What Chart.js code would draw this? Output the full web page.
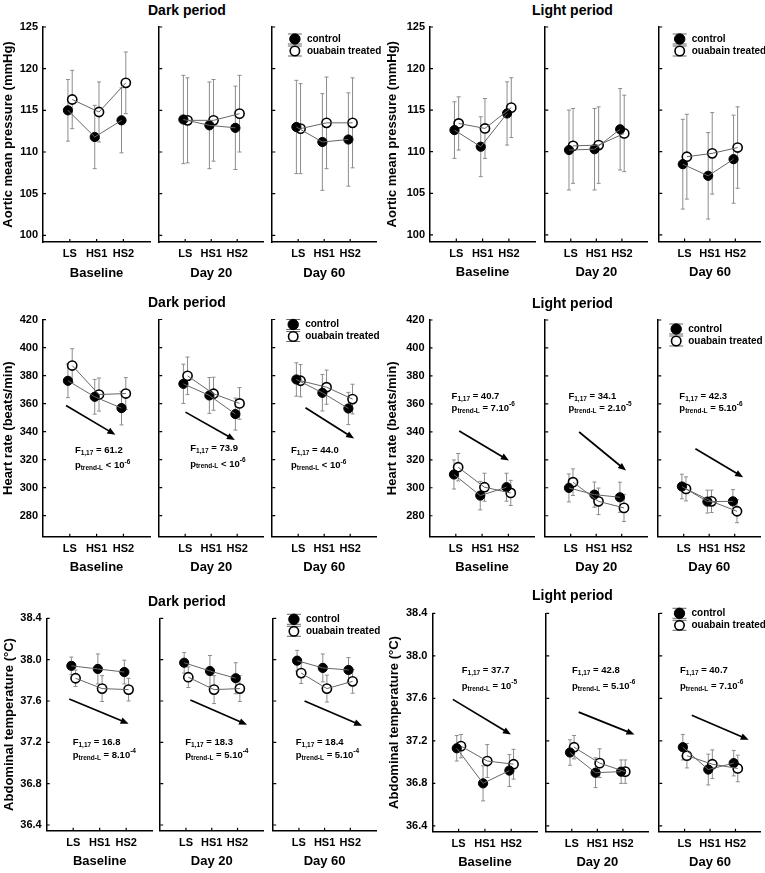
<!DOCTYPE html>
<html>
<head>
<meta charset="utf-8">
<script src="https://cdn.jsdelivr.net/npm/chart.js@4.4.1/dist/chart.umd.min.js"></script>
<style>
  body { margin: 0; background: #fff; width: 765px; height: 873px; position: relative; overflow: hidden;
         font-family: 'Liberation Sans', Arial, sans-serif; }
  canvas { position: absolute; }
  .ttl { position: absolute; font-weight: bold; font-size: 14px; line-height: 16px; white-space: nowrap; }
</style>
</head>
<body>
<script>
const categories = ['LS', 'HS1', 'HS2'];
const periods = ['Baseline', 'Day 20', 'Day 60'];
const seriesNames = ['control', 'ouabain treated'];

// Aortic mean pressure (mmHg), per period [LS, HS1, HS2]
const mapTicks = [100, 105, 110, 115, 120, 125];
const mapDarkControl    = [[115.0, 111.8, 113.8], [113.9, 113.2, 112.9], [113.0, 111.2, 111.5]];
const mapDarkControlSem = [[3.7, 3.8, 3.9], [5.3, 5.2, 5.0], [5.6, 5.8, 5.6]];
const mapDarkOuabain    = [[116.3, 114.8, 118.3], [113.8, 113.8, 114.6], [112.8, 113.5, 113.5]];
const mapDarkOuabainSem = [[3.5, 3.6, 3.7], [5.1, 4.9, 4.6], [5.4, 5.5, 5.4]];
const mapLightControl    = [[112.6, 110.6, 114.6], [110.2, 110.3, 112.7], [108.5, 107.1, 109.1]];
const mapLightControlSem = [[3.4, 3.6, 3.8], [4.8, 4.9, 4.9], [5.4, 5.2, 5.3]];
const mapLightOuabain    = [[113.4, 112.8, 115.3], [110.7, 110.8, 112.2], [109.4, 109.8, 110.5]];
const mapLightOuabainSem = [[3.2, 3.6, 3.6], [4.5, 4.6, 4.6], [5.1, 4.9, 4.9]];

// Heart rate (beats/min)
const hrTicks = [280, 300, 320, 340, 360, 380, 400, 420];
const hrDarkControl    = [[376.3, 364.9, 356.8], [374.1, 365.8, 352.5], [377.2, 367.7, 356.5]];
const hrDarkControlSem = [[12.0, 12.4, 12.0], [14.0, 12.8, 11.4], [11.9, 13.0, 11.5]];
const hrDarkOuabain    = [[387.2, 366.5, 367.2], [379.8, 367.0, 360.1], [376.3, 371.7, 363.2]];
const hrDarkOuabainSem = [[12.0, 11.8, 11.4], [13.4, 11.8, 11.3], [11.5, 12.2, 10.6]];
const hrLightControl    = [[309.5, 294.4, 300.4], [299.9, 295.1, 293.2], [300.9, 290.1, 290.3]];
const hrLightControlSem = [[10.4, 10.2, 10.0], [10.0, 9.0, 10.8], [8.8, 8.2, 8.4]];
const hrLightOuabain    = [[314.7, 300.4, 296.3], [304.0, 290.3, 285.6], [299.2, 290.3, 283.2]];
const hrLightOuabainSem = [[9.8, 10.0, 9.0], [9.5, 9.5, 9.7], [8.6, 8.0, 8.2]];
const hrDarkF = ['61.2', '73.9', '44.0'];
const hrDarkP = ['< 10^-6', '< 10^-6', '< 10^-6'];
const hrLightF = ['40.7', '34.1', '42.3'];
const hrLightP = ['= 7.10^-6', '= 2.10^-5', '= 5.10^-6'];
const hrDarkArrows  = [[0.86, 358.7, 2.70, 337.8], [1.01, 353.9, 2.91, 334.0], [1.28, 357.0, 3.15, 335.1]];
const hrLightArrows = [[1.13, 340.6, 3.02, 319.5], [1.33, 339.9, 3.17, 312.3], [1.46, 327.9, 3.33, 307.6]];

// Abdominal temperature (°C)
const tTicks = [36.4, 36.8, 37.2, 37.6, 38.0, 38.4];
const tDarkControl    = [[37.94, 37.91, 37.88], [37.97, 37.89, 37.82], [37.99, 37.92, 37.90]];
const tDarkControlSem = [[0.085, 0.145, 0.115], [0.10, 0.15, 0.15], [0.10, 0.135, 0.12]];
const tDarkOuabain    = [[37.82, 37.72, 37.71], [37.83, 37.71, 37.72], [37.87, 37.72, 37.79]];
const tDarkOuabainSem = [[0.08, 0.125, 0.11], [0.10, 0.135, 0.125], [0.10, 0.13, 0.115]];
const tLightControl    = [[37.13, 36.80, 36.92], [37.09, 36.90, 36.91], [37.14, 36.93, 36.99]];
const tLightControlSem = [[0.12, 0.165, 0.15], [0.12, 0.14, 0.11], [0.12, 0.145, 0.12]];
const tLightOuabain    = [[37.15, 37.01, 36.98], [37.14, 36.99, 36.91], [37.06, 36.98, 36.94]];
const tLightOuabainSem = [[0.11, 0.155, 0.14], [0.11, 0.135, 0.11], [0.115, 0.135, 0.125]];
const tDarkF = ['16.8', '18.3', '18.4'];
const tDarkP = ['= 8.10^-4', '= 5.10^-4', '= 5.10^-4'];
const tLightF = ['37.7', '42.8', '40.7'];
const tLightP = ['= 10^-5', '= 5.10^-6', '= 7.10^-6'];
const tDarkArrows  = [[0.85, 37.62, 3.09, 37.38], [1.17, 37.61, 3.37, 37.37], [1.22, 37.60, 3.46, 37.36]];
const tLightArrows = [[0.78, 37.59, 2.99, 37.26], [1.27, 37.47, 3.45, 37.26], [1.28, 37.44, 3.52, 37.21]];

// page layout of the six panels (pixels), text anchors in axis units
const boxes = [
  { axes: [43, 156, 269], unit: 26.8, top: 27, bottom: 242, yTitleX: 9, legend: [22.7, 12], title: [148, 2] },
  { axes: [430, 542.3, 655.5], unit: 26.3, top: 27, bottom: 241.5, yTitleX: 393, legend: [20.5, 12], title: [532, 2] },
  { axes: [43, 156, 269], unit: 26.8, top: 319.5, bottom: 536.7, yTitleX: 9, legend: [21, 5], title: [148, 294],
    text: [[1.19, 326.5], [1.19, 327.7], [0.72, 326.5]], pGap: 15.3 },
  { axes: [429.5, 542, 655], unit: 26.3, top: 320, bottom: 536.7, yTitleX: 393, legend: [18, 9], title: [532, 295],
    text: [[0.84, 365.4], [0.91, 365.4], [0.83, 365.4]], pGap: 12.3 },
  { axes: [46.7, 157.3, 270], unit: 26.5, top: 618.3, bottom: 830.7, yTitleX: 9.3, legend: [20.7, 1], title: [148, 593],
    text: [[0.98, 37.20], [0.97, 37.20], [0.88, 37.20]], pGap: 13.3 },
  { axes: [432.3, 543.3, 655.7], unit: 26.3, top: 613.3, bottom: 831.7, yTitleX: 395, legend: [20.3, 0], title: [532, 587],
    text: [[1.12, 37.86], [1.01, 37.86], [0.82, 37.86]], pGap: 16 }
];

const panels = [
  { title: 'Dark period', yTitle: 'Aortic mean pressure (mmHg)', ticks: mapTicks, dec: 0, yMin: 99.2, yMax: 125,
    ctrl: mapDarkControl, ctrlErr: mapDarkControlSem, ouab: mapDarkOuabain, ouabErr: mapDarkOuabainSem },
  { title: 'Light period', yTitle: 'Aortic mean pressure (mmHg)', ticks: mapTicks, dec: 0, yMin: 99.2, yMax: 125,
    ctrl: mapLightControl, ctrlErr: mapLightControlSem, ouab: mapLightOuabain, ouabErr: mapLightOuabainSem },
  { title: 'Dark period', yTitle: 'Heart rate (beats/min)', ticks: hrTicks, dec: 0, yMin: 265, yMax: 420,
    ctrl: hrDarkControl, ctrlErr: hrDarkControlSem, ouab: hrDarkOuabain, ouabErr: hrDarkOuabainSem,
    arrows: hrDarkArrows, fStat: hrDarkF, pVal: hrDarkP },
  { title: 'Light period', yTitle: 'Heart rate (beats/min)', ticks: hrTicks, dec: 0, yMin: 265, yMax: 420,
    ctrl: hrLightControl, ctrlErr: hrLightControlSem, ouab: hrLightOuabain, ouabErr: hrLightOuabainSem,
    arrows: hrLightArrows, fStat: hrLightF, pVal: hrLightP },
  { title: 'Dark period', yTitle: 'Abdominal temperature (°C)', ticks: tTicks, dec: 1, yMin: 36.345, yMax: 38.4,
    ctrl: tDarkControl, ctrlErr: tDarkControlSem, ouab: tDarkOuabain, ouabErr: tDarkOuabainSem,
    arrows: tDarkArrows, fStat: tDarkF, pVal: tDarkP },
  { title: 'Light period', yTitle: 'Abdominal temperature (°C)', ticks: tTicks, dec: 1, yMin: 36.345, yMax: 38.4,
    ctrl: tLightControl, ctrlErr: tLightControlSem, ouab: tLightOuabain, ouabErr: tLightOuabainSem,
    arrows: tLightArrows, fStat: tLightF, pVal: tLightP }
];

const FONT = "'Liberation Sans', Arial, sans-serif";
const OFF_C = -0.07, OFF_O = 0.09;
Chart.defaults.font.family = FONT;
Chart.defaults.color = '#000';

function richText(ctx, x, y, parts) {
  let cx = x;
  parts.forEach(([txt, size, dy]) => {
    ctx.font = 'bold ' + size + 'px ' + FONT;
    ctx.fillText(txt, cx, y + dy);
    cx += ctx.measureText(txt).width;
  });
}

function makeDeco(p, b, j) {
  return {
    id: 'deco',
    beforeDatasetsDraw(chart) {
      const { ctx, scales: { x, y } } = chart;
      ctx.save();
      ctx.strokeStyle = '#8c8c8c';
      ctx.lineWidth = 1;
      [[p.ctrl, p.ctrlErr, OFF_C], [p.ouab, p.ouabErr, OFF_O]].forEach(([m, e, off]) => {
        m[j].forEach((v, i) => {
          const px = x.getPixelForValue(i + 1 + off);
          const t = y.getPixelForValue(v + e[j][i]);
          const bt = y.getPixelForValue(v - e[j][i]);
          ctx.beginPath();
          ctx.moveTo(px, t); ctx.lineTo(px, bt);
          ctx.moveTo(px - 2, t); ctx.lineTo(px + 2, t);
          ctx.moveTo(px - 2, bt); ctx.lineTo(px + 2, bt);
          ctx.stroke();
        });
      });
      ctx.restore();
    },
    afterDraw(chart) {
      const { ctx, chartArea: ca, scales: { x, y } } = chart;
      ctx.save();
      // inward tick marks
      ctx.strokeStyle = '#000';
      ctx.lineWidth = 1.2;
      ctx.beginPath();
      y.ticks.forEach(t => {
        const py = y.getPixelForValue(t.value);
        ctx.moveTo(ca.left, py); ctx.lineTo(ca.left + 3, py);
      });
      x.ticks.forEach(t => {
        const px = x.getPixelForValue(t.value);
        ctx.moveTo(px, ca.bottom); ctx.lineTo(px, ca.bottom - 3);
      });
      ctx.stroke();

      // trend arrow
      if (p.arrows) {
        const [a1, b1, a2, b2] = p.arrows[j];
        const X1 = x.getPixelForValue(a1), Y1 = y.getPixelForValue(b1);
        const X2 = x.getPixelForValue(a2), Y2 = y.getPixelForValue(b2);
        const ang = Math.atan2(Y2 - Y1, X2 - X1);
        const hl = 8, hw = 3.3;
        const c = Math.cos(ang), s = Math.sin(ang);
        ctx.lineWidth = 1.7;
        ctx.beginPath();
        ctx.moveTo(X1, Y1);
        ctx.lineTo(X2 - c * hl * 0.7, Y2 - s * hl * 0.7);
        ctx.stroke();
        ctx.fillStyle = '#000';
        ctx.beginPath();
        ctx.moveTo(X2, Y2);
        ctx.lineTo(X2 - c * hl - s * hw, Y2 - s * hl + c * hw);
        ctx.lineTo(X2 - c * hl + s * hw, Y2 - s * hl - c * hw);
        ctx.closePath();
        ctx.fill();
      }

      // statistics text
      if (p.fStat) {
        const tx = x.getPixelForValue(b.text[j][0]);
        const ty = y.getPixelForValue(b.text[j][1]);
        ctx.fillStyle = '#000';
        ctx.textBaseline = 'middle';
        ctx.textAlign = 'left';
        richText(ctx, tx, ty, [['F', 9.5, 0], ['1,17', 6.5, 2.5], [' = ' + p.fStat[j], 9.5, 0]]);
        const [pre, exp] = p.pVal[j].split('^');
        richText(ctx, tx, ty + b.pGap, [['p', 9.5, 0], ['trend-L', 6.5, 2.5], [' ' + pre, 9.5, 0], [exp, 6.5, -4]]);
      }

      // legend in the last period
      if (j === 2) {
        const lx = ca.left + b.legend[0];
        const ly = ca.top + b.legend[1];
        seriesNames.forEach((name, k) => {
          const cy = ly + k * 12;
          ctx.strokeStyle = '#666';
          ctx.lineWidth = 1;
          ctx.beginPath();
          ctx.moveTo(lx - 7, cy - 5); ctx.lineTo(lx + 7, cy - 5);
          ctx.moveTo(lx - 7, cy + 5); ctx.lineTo(lx + 7, cy + 5);
          ctx.moveTo(lx, cy - 5); ctx.lineTo(lx, cy + 5);
          ctx.stroke();
          ctx.beginPath();
          ctx.arc(lx, cy, k === 0 ? 5.2 : 4.7, 0, Math.PI * 2);
          ctx.fillStyle = k === 0 ? '#000' : '#fff';
          ctx.fill();
          ctx.strokeStyle = '#000';
          ctx.lineWidth = k === 0 ? 1 : 1.6;
          ctx.stroke();
          ctx.fillStyle = '#000';
          ctx.font = 'bold 10px ' + FONT;
          ctx.textBaseline = 'middle';
          ctx.textAlign = 'left';
          ctx.fillText(name, lx + 12, cy);
        });
      }
      ctx.restore();
    }
  };
}

function buildSub(p, b, j) {
  const W = 4 * b.unit;
  const H = b.bottom - b.top;
  const bottomH = 39;
  const cLeft = j === 0 ? Math.round(b.yTitleX - 7.8) : Math.round(b.axes[j] - 3);
  const leftW = j === 0 ? b.axes[j] - cLeft : 0;
  const padL = j === 0 ? 0 : b.axes[j] - cLeft;
  const cTop = Math.round(b.top - 12);
  const padT = b.top - cTop;
  const cw = Math.ceil(padL + leftW + W + 10);
  const ch = Math.ceil(padT + H + bottomH + 2);
  const padR = cw - padL - leftW - W;
  const padB = ch - padT - H - bottomH;

  const cv = document.createElement('canvas');
  cv.width = cw; cv.height = ch;
  cv.style.left = cLeft + 'px'; cv.style.top = cTop + 'px';
  cv.style.width = cw + 'px'; cv.style.height = ch + 'px';
  document.body.appendChild(cv);

  const cPts = p.ctrl[j].map((v, i) => ({ x: i + 1 + OFF_C, y: v }));
  const oPts = p.ouab[j].map((v, i) => ({ x: i + 1 + OFF_O, y: v }));

  new Chart(cv, {
    type: 'scatter',
    data: {
      datasets: [
        { data: cPts, showLine: true, borderColor: '#666', borderWidth: 1, pointRadius: 0 },
        { data: oPts, showLine: true, borderColor: '#666', borderWidth: 1, pointRadius: 0 },
        { data: cPts, pointRadius: 4.6, pointBackgroundColor: '#000', pointBorderColor: '#000', pointBorderWidth: 1 },
        { data: oPts, pointRadius: 4.6, pointBackgroundColor: '#fff', pointBorderColor: '#000', pointBorderWidth: 1.6 }
      ]
    },
    options: {
      responsive: false,
      animation: false,
      events: [],
      layout: { padding: { left: padL, top: padT, right: padR, bottom: padB } },
      plugins: { legend: { display: false }, tooltip: { enabled: false } },
      scales: {
        x: {
          type: 'linear', min: 0, max: 4,
          afterBuildTicks: s => { s.ticks = [1, 2, 3].map(v => ({ value: v })); },
          afterFit: s => { s.height = bottomH; },
          ticks: { callback: v => categories[v - 1], font: { size: 11, weight: 'bold' }, padding: 5.5,
                   maxRotation: 0, autoSkip: false },
          grid: { display: false, drawTicks: false },
          border: { display: true, color: '#000', width: 1.5 },
          title: { display: true, text: periods[j], font: { size: 13, weight: 'bold' }, padding: 0 }
        },
        y: {
          type: 'linear', min: p.yMin, max: p.yMax,
          afterBuildTicks: s => { s.ticks = p.ticks.map(v => ({ value: v })); },
          afterFit: s => { s.width = leftW; },
          ticks: { display: j === 0, callback: v => v.toFixed(p.dec), font: { size: 11, weight: 'bold' }, padding: 5 },
          grid: { display: false, drawTicks: false },
          border: { display: true, color: '#000', width: 1.5 },
          title: { display: j === 0, text: p.yTitle, font: { size: 13, weight: 'bold' }, padding: 0 }
        }
      }
    },
    plugins: [makeDeco(p, b, j)]
  });
}

panels.forEach((p, k) => {
  const b = boxes[k];
  const t = document.createElement('div');
  t.className = 'ttl';
  t.textContent = p.title;
  t.style.left = b.title[0] + 'px';
  t.style.top = b.title[1] + 'px';
  document.body.appendChild(t);
  for (let j = 0; j < 3; j++) buildSub(p, b, j);
});
</script>
</body>
</html>
